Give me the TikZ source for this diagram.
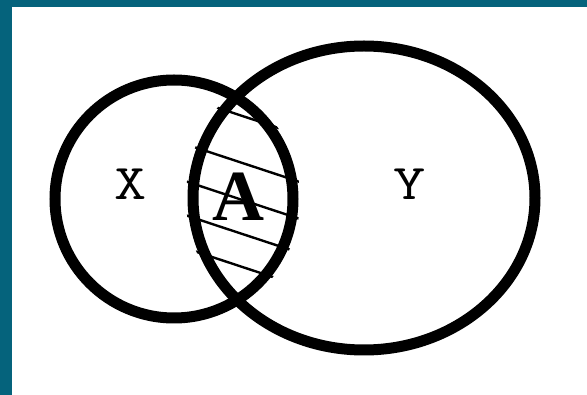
\documentclass[tikz,border=0pt]{standalone}
\usepackage{fontspec}
\usepackage{xcolor}
\usepackage{tikz}
\newfontfamily\serifbold{Liberation Serif}
\definecolor{Frame}{HTML}{05637C}

\begin{document}
\begin{tikzpicture}[x=1pt, y=-1pt,
  setline/.style={line width=11pt, draw=black},
  hatch/.style={line width=2.4pt, draw=black},
  setname/.style={font=\ttfamily\fontsize{50}{50}\selectfont, inner sep=0pt,
    xscale=1.25, transform shape},
  region/.style={font=\serifbold\bfseries\fontsize{72}{72}\selectfont, inner sep=0pt}
]
  \useasboundingbox (0,0) rectangle (587,395);
  \fill[Frame] (0,0) rectangle (587,395);
  \fill[white] (12,7) rectangle (587,395);

  % hatched part of the overlap
  \begin{scope}
    \clip (174,199) circle [radius=126];
    \clip (364,198) ellipse [x radius=178, y radius=159];
    \foreach \y in {102,149,186,220,253}
      \draw[hatch] (180,\y-6.6) -- (320,\y+39.6);
  \end{scope}

  \draw[setline] (174,199) circle [radius=119];
  \draw[setline] (364,198) ellipse [x radius=171, y radius=152];

  \node[setname] (setX) at (131,184) {X};
  \node[setname] (setY) at (410,184) {Y};
  \node[region] (partA) at (238,197) {A};
\end{tikzpicture}
\end{document}
